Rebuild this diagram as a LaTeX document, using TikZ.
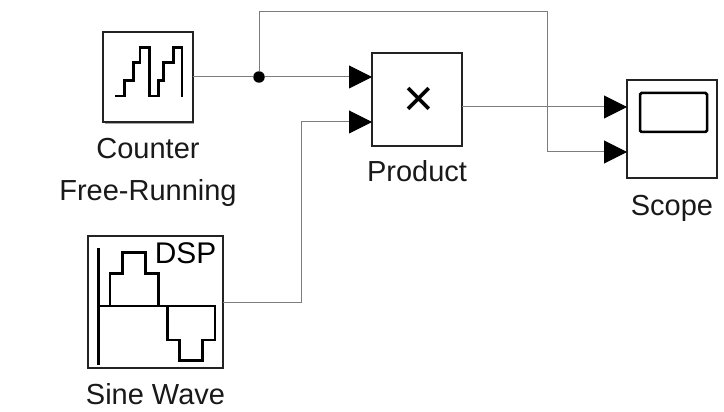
\documentclass[tikz,border=0pt]{standalone}
\usepackage{fontspec}
\setmainfont{Liberation Sans}
\usetikzlibrary{shadows,positioning,arrows.meta}
\definecolor{wireGray}{RGB}{125,125,125}
\definecolor{blockEdge}{RGB}{35,35,35}
\tikzset{
  blockbox/.style={draw=blockEdge,line width=0.04cm,fill=white,inner sep=0pt,outer sep=0pt,
    drop shadow={shadow xshift=0.03cm,shadow yshift=-0.03cm,fill=black,opacity=0.35}},
  wire/.style={draw=wireGray,line width=0.02cm},
  intip/.style={-{Triangle[length=0.46cm,width=0.46cm,color=black,fill=black]}},
  junction/.style={circle,fill=black,inner sep=0pt,minimum size=0.23cm},
  icon/.style={line width=0.05cm,draw=black,line join=miter},
  caption/.style={font=\fontsize{16.5pt}{24pt}\selectfont,align=center,text=black!90,inner sep=0pt}
}
\begin{document}
\begin{tikzpicture}[x=0.02cm,y=-0.02cm]
    \useasboundingbox (0,0) rectangle (724,412);
    % blocks
    \node[blockbox,minimum width=1.8cm,minimum height=1.82cm] (counter) at (148,77) {};
    \node[blockbox,minimum width=2.7cm,minimum height=2.64cm] (sine) at (155.5,302) {};
    \node[blockbox,minimum width=1.8cm,minimum height=1.86cm] (product) at (417,99.5) {};
    \node[blockbox,minimum width=1.8cm,minimum height=1.96cm] (scope) at (672,129) {};
    % labels
    \node[caption,below=0.31cm of counter] (counterLabel) {Counter\\Free-Running};
    \node[caption,below=0.3cm of sine] (sineLabel) {Sine Wave};
    \node[caption,below=0.28cm of product] (productLabel) {Product};
    \node[caption,below=0.34cm of scope] (scopeLabel) {Scope};
    \node[font=\fontsize{17pt}{17pt}\selectfont,inner sep=0pt] (dspLabel) at (185.5,253) {DSP};
    \node[font=\fontsize{30pt}{30pt}\selectfont,inner sep=0pt] (timesSign) at (419,102) {×};
    % ports
    \coordinate (productIn1) at (372,77);
    \coordinate (productIn2) at (372,122);
    \coordinate (scopeIn1) at (627,107);
    \coordinate (scopeIn2) at (627,152);
    \coordinate (productOut) at (462,107);
    \coordinate (topTurn) at (547,12);
    \coordinate (sineTurn) at (301,122);
    \node[junction] (branch) at (259,77) {};
    % wires
    \draw[wire] (counter.east) -- (branch);
    \draw[wire,intip] (branch) -- (productIn1);
    \draw[wire,intip] (branch) |- (topTurn) |- (scopeIn2);
    \draw[wire,intip] (sine.east) -| (sineTurn) -- (productIn2);
    \draw[wire,intip] (productOut) -- (scopeIn1);
    % icons
    \draw[icon] (115,96) -- (124.5,96) -- (124.5,80.5) -- (133.5,80.5) -- (133.5,62.5) -- (140,62.5)
      -- (140,47.5) -- (149.5,47.5) -- (149.5,96) -- (158.5,96) -- (158.5,80.5) -- (163.5,80.5)
      -- (163.5,62.5) -- (173.5,62.5) -- (173.5,47.5) -- (182,47.5) -- (182,97);
    \draw[icon] (98.5,248) -- (98.5,365);
    \draw[icon] (98.5,306) -- (215,306) -- (215,340) -- (202.5,340) -- (202.5,360.5) -- (179.5,360.5)
      -- (179.5,340) -- (167.5,340) -- (167.5,306);
    \draw[icon] (110,306) -- (110,273.5) -- (122.5,273.5) -- (122.5,252.5) -- (145.5,252.5)
      -- (145.5,273.5) -- (158.5,273.5) -- (158.5,306);
    \draw[icon,rounded corners=0.03cm] (640,93) rectangle (707,132);
  \end{tikzpicture}
\end{document}
